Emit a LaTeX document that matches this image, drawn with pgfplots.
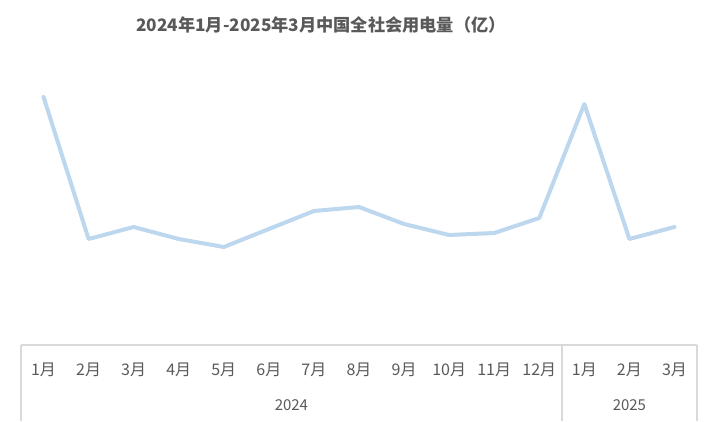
\documentclass[border=0pt]{standalone}
\usepackage{pgfplots}
\pgfplotsset{compat=1.18}
\usepackage{fontspec}
\setmainfont{Noto Sans CJK SC}
\definecolor{linec}{HTML}{BDD7EE}
\definecolor{txt}{HTML}{595959}
\definecolor{frame}{HTML}{D9D9D9}
\begin{document}
\begin{tikzpicture}[x=1pt,y=1pt]
\useasboundingbox (0,0) rectangle (712,421);
\node[font=\fontsize{17.2}{20}\selectfont\bfseries, text=txt] at (321,396) {2024年1月-2025年3月中国全社会用电量（亿）};
\begin{axis}[
  at={(21pt,76pt)}, anchor=south west,
  scale only axis, width=676pt, height=290pt,
  xmin=-0.5, xmax=14.5, ymin=0, ymax=290,
  axis y line=none,
  axis x line*=bottom,
  x axis line style={draw=frame, line width=1.5pt, -},
  xtick={0,...,14},
  xticklabels={1月,2月,3月,4月,5月,6月,7月,8月,9月,10月,11月,12月,1月,2月,3月},
  xtick style={draw=none},
  xticklabel style={anchor=center, yshift=-25pt, font=\fontsize{16}{18}\selectfont, text=txt},
  clip=false,
]
\addplot[color=linec, line width=4pt, line join=round, line cap=round] coordinates {
(0,248) (1,106) (2,118) (3,106) (4,98) (5,116) (6,134) (7,138) (8,121) (9,110) (10,112) (11,127) (12,241) (13,106) (14,118)
};
\draw[frame, line width=1.5pt] (axis cs:-0.5,0) -- (axis cs:-0.5,-76);
\draw[frame, line width=1.5pt] (axis cs:11.5,0) -- (axis cs:11.5,-76);
\draw[frame, line width=1.5pt] (axis cs:14.5,0) -- (axis cs:14.5,-76);
\node[font=\fontsize{15}{17}\selectfont, text=txt] at (axis cs:5.5,-60) {2024};
\node[font=\fontsize{15}{17}\selectfont, text=txt] at (axis cs:13,-60) {2025};
\end{axis}
\end{tikzpicture}
\end{document}
